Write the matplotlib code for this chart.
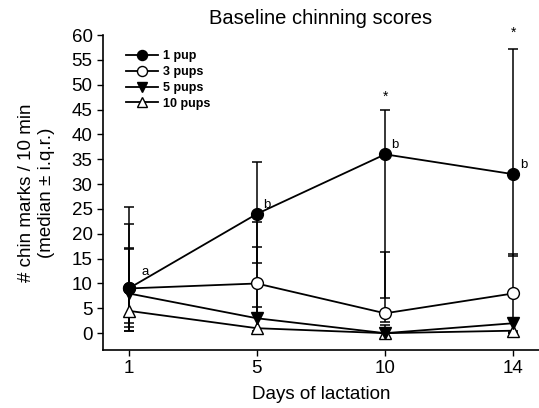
import matplotlib
matplotlib.use("Agg")
import matplotlib.pyplot as plt
import numpy as np

plt.rcParams['font.family'] = ['Liberation Sans', 'DejaVu Sans']

days = ['1', '5', '10', '14']
series = ['1 pup', '3 pups', '5 pups', '10 pups']

# medians
med_1 = [9, 24, 36, 32]
med_3 = [9, 10, 4, 8]
med_5 = [8, 3, 0, 2]
med_10 = [4.5, 1, 0, 0.5]

# interquartile range bounds (low, high)
lo_1 = [2.0, 14.2, 7.0, 15.5]
hi_1 = [25.4, 34.5, 45.0, 57.3]
lo_3 = [1.3, 4.0, 2.3, 0.0]
hi_3 = [21.9, 22.4, 16.4, 16.0]
lo_5 = [0.4, 0.5, 0.0, 0.0]
hi_5 = [17.2, 17.4, 1.6, 2.8]
lo_10 = [0.4, 0.0, 0.0, 0.0]
hi_10 = [16.9, 5.3, 0.9, 0.5]

letters = ['a', 'b', 'b', 'b']
stars = ['', '', '*', '*']
star_y = [0, 0, 47.5, 60.5]

meds = [med_1, med_3, med_5, med_10]
los = [lo_1, lo_3, lo_5, lo_10]
his = [hi_1, hi_3, hi_5, hi_10]
markers = ['o', 'o', 'v', '^']
faces = ['black', 'white', 'black', 'white']

fig = plt.figure(figsize=(5.39, 4.08), dpi=100)
ax = fig.add_axes([0.191, 0.142, 0.809, 0.772])

x = np.arange(len(days))
for i in range(len(series)):
    m = np.array(meds[i])
    err = [m - np.array(los[i]), np.array(his[i]) - m]
    ax.errorbar(x, m, yerr=err, fmt='none', ecolor='black', elinewidth=1.1,
                capsize=3.5, capthick=1.1, zorder=2)

for i in range(len(series)):
    ax.plot(x, meds[i], color='black', lw=1.3, marker=markers[i],
            markersize=8.5, markerfacecolor=faces[i], markeredgecolor='black',
            markeredgewidth=1, label=series[i], zorder=3 + (3 - i))

# letters next to 1 pup medians
ax.text(0.1, med_1[0] + 2.2, letters[0], fontsize=9.5, ha='left', va='bottom')
for j in range(1, 4):
    ax.text(x[j] + 0.05, med_1[j] + 0.6, letters[j], fontsize=9.5, ha='left', va='bottom')
for j in range(4):
    if stars[j]:
        ax.text(x[j], star_y[j], stars[j], fontsize=10, ha='center', va='center')

ax.set_xlim(-0.2, 3.2)
ax.set_ylim(-3.4, 60)
ax.set_xticks(x)
ax.set_xticklabels(days)
ax.set_yticks(np.arange(0, 61, 5))
ax.tick_params(labelsize=13.5, length=4, width=1)
ax.spines['top'].set_visible(False)
ax.spines['right'].set_visible(False)
ax.spines['left'].set_bounds(-3.4, 60)
ax.spines['left'].set_linewidth(1.2)
ax.spines['bottom'].set_linewidth(1.2)

ax.set_xlabel('Days of lactation', fontsize=13.5, labelpad=6)
ax.set_ylabel('# chin marks / 10 min\n(median ± i.q.r.)', fontsize=13.5, labelpad=12)
ax.set_title('Baseline chinning scores', fontsize=14.5, pad=8)

leg = ax.legend(loc='upper left', bbox_to_anchor=(0.035, 0.975), frameon=False,
                fontsize=9, handlelength=2.6, labelspacing=0.3,
                borderaxespad=0.2, handletextpad=0.4, markerscale=0.85)
for t in leg.get_texts():
    t.set_fontweight('bold')

fig.savefig('out.png', dpi=100)
